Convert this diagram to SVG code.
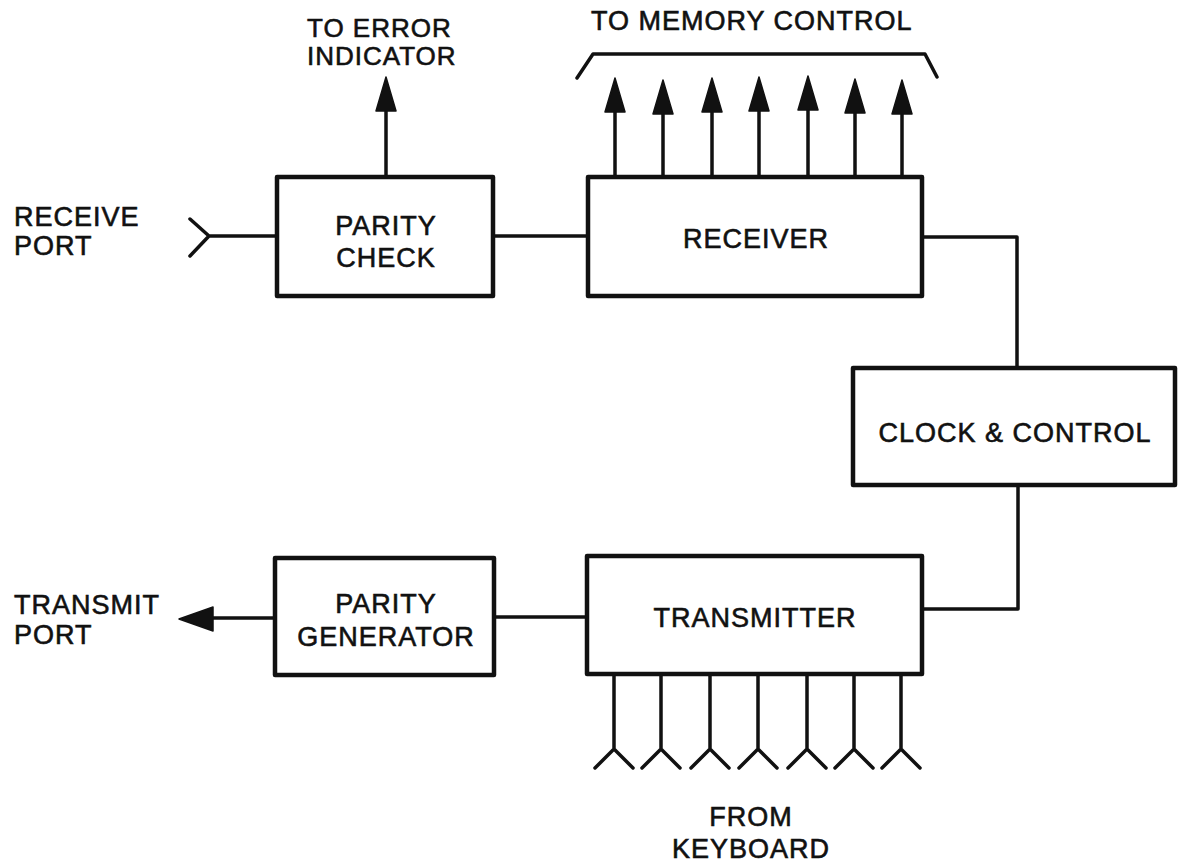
<svg xmlns="http://www.w3.org/2000/svg" width="1178" height="867" viewBox="0 0 1178 867">
<style>
.box{fill:none;stroke:#111;stroke-width:4.5;stroke-linejoin:round}
.ln{fill:none;stroke:#111;stroke-width:3.5;stroke-linejoin:round;stroke-linecap:round}
.ah{fill:#111;stroke:#111;stroke-width:1.5;stroke-linejoin:round}
text{font-family:"Liberation Sans",Arial,sans-serif;font-size:27px;fill:#111;stroke:#111;stroke-width:0.6px;letter-spacing:1px}
.c{text-anchor:middle}
</style>
<defs>
<path id="up" class="ah" d="M0,0 L-10,34 L10,34 Z"/>
<path id="fork" class="ln" d="M0,0 V75 M-19,94 L0,75 L19,94"/>
</defs>
<rect width="1178" height="867" fill="#fff"/>
<g id="connectors">
<path class="ln" d="M190,219 L209,236 L190,256 M209,236 H277"/>
<path class="ln" d="M493,236 H588"/>
<path class="ln" d="M922,237 H1017 V368"/>
<path class="ln" d="M1018,485 V609 H922"/>
<path class="ln" d="M494,617 H587"/>
<path class="ln" d="M275,618 H205"/>
<path class="ah" d="M179,619 L213,607 L213,631 Z"/>
<path class="ln" d="M386,177 V105"/>
<use href="#up" x="386" y="77"/>
<g id="mem-out">
<path class="ln" d="M615,177 V105 M663,177 V105 M712,177 V105 M759,177 V105 M808,177 V105 M855,177 V105 M902,177 V105"/>
<use href="#up" x="615" y="78"/>
<use href="#up" x="663" y="80"/>
<use href="#up" x="712" y="78"/>
<use href="#up" x="759" y="77"/>
<use href="#up" x="808" y="76"/>
<use href="#up" x="855" y="79"/>
<use href="#up" x="902" y="80"/>
<path class="ln" d="M577,78 L593,54 H925 L937,77"/>
</g>
<g id="kbd-in">
<use href="#fork" x="614" y="674"/>
<use href="#fork" x="661" y="674"/>
<use href="#fork" x="710" y="674"/>
<use href="#fork" x="758" y="674"/>
<use href="#fork" x="807" y="674"/>
<use href="#fork" x="854" y="674"/>
<use href="#fork" x="901" y="674"/>
</g>
</g>
<g id="parity-check">
<rect class="box" x="277" y="177" width="216" height="119"/>
<text class="c" x="386" y="235">PARITY</text>
<text class="c" x="386" y="267">CHECK</text>
</g>
<g id="receiver">
<rect class="box" x="588" y="177" width="334" height="119"/>
<text class="c" x="756" y="248">RECEIVER</text>
</g>
<g id="clock-control">
<rect class="box" x="853" y="368" width="322" height="117"/>
<text class="c" x="1015" y="442">CLOCK &amp; CONTROL</text>
</g>
<g id="parity-generator">
<rect class="box" x="275" y="558" width="219" height="117"/>
<text class="c" x="386" y="613">PARITY</text>
<text class="c" x="386" y="646">GENERATOR</text>
</g>
<g id="transmitter">
<rect class="box" x="587" y="556" width="335" height="118"/>
<text class="c" x="755" y="627">TRANSMITTER</text>
</g>
<g id="labels">
<text x="307" y="37" style="font-size:26px">TO ERROR</text>
<text x="307" y="65" style="font-size:26px">INDICATOR</text>
<text x="591" y="30">TO MEMORY CONTROL</text>
<text x="14" y="226">RECEIVE</text>
<text x="14" y="255">PORT</text>
<text x="14" y="614">TRANSMIT</text>
<text x="14" y="644">PORT</text>
<text class="c" x="751" y="826">FROM</text>
<text class="c" x="751" y="858">KEYBOARD</text>
</g>
</svg>
